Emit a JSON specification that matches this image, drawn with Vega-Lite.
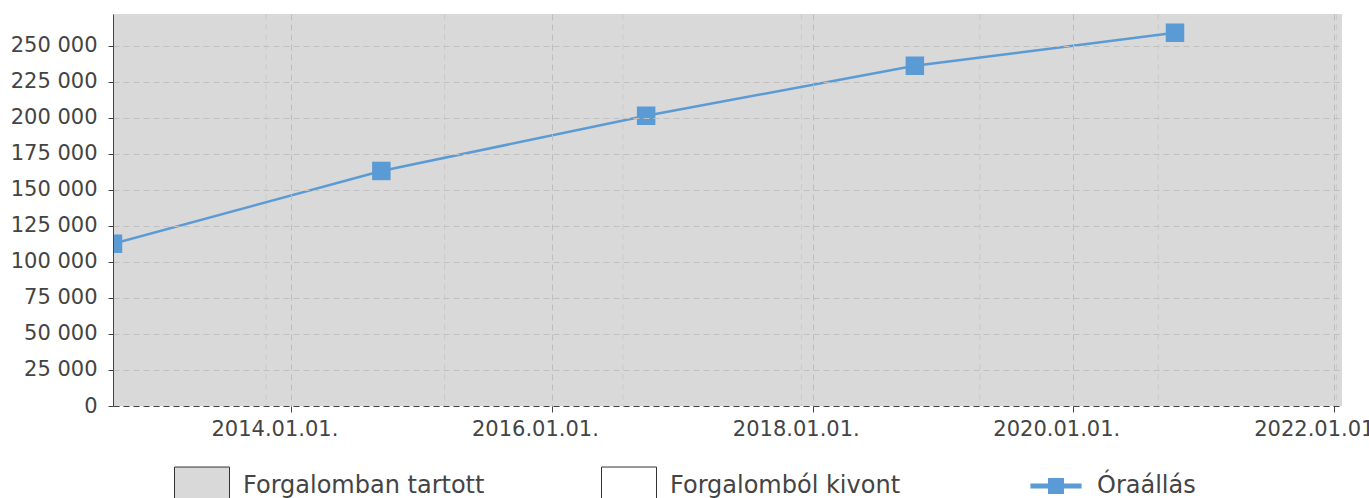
{
  "$schema": "https://vega.github.io/schema/vega-lite/v6.json",
  "width": 1229,
  "height": 392,
  "autosize": {"type": "none"},
  "padding": {"left": 113, "top": 14, "right": 27, "bottom": 92},
  "background": "white",
  "config": {
    "locale": {"number": {"decimal": ",", "thousands": " ", "grouping": [3], "currency": ["", ""]}},
    "view": {"stroke": null},
    "font": "DejaVu Sans"
  },
  "datasets": {
    "periods": [{"start": "2012-08-19", "end": "2022-01-23", "status": "Forgalomban tartott"}],
    "minor": [
      {"date": "2013-10-22"}, {"date": "2015-03-06"}, {"date": "2016-07-18"},
      {"date": "2017-11-30"}, {"date": "2019-04-14"}, {"date": "2020-08-26"}, {"date": "2022-01-08"}
    ],
    "readings": [
      {"date": "2012-08-19", "km": 112600, "series": "Óraállás"},
      {"date": "2014-09-10", "km": 163100, "series": "Óraállás"},
      {"date": "2016-09-21", "km": 201400, "series": "Óraállás"},
      {"date": "2018-10-14", "km": 236100, "series": "Óraállás"},
      {"date": "2020-10-12", "km": 259000, "series": "Óraállás"}
    ]
  },
  "layer": [
    {
      "data": {"name": "periods"},
      "mark": {"type": "rect", "clip": true},
      "encoding": {
        "x": {
          "field": "start", "type": "temporal",
          "scale": {"type": "utc", "domain": [{"year": 2012, "month": 8, "date": 19, "utc": true}, {"year": 2022, "month": 1, "date": 23, "utc": true}]},
          "axis": {
            "values": [
              {"year": 2014, "month": 1, "date": 1, "utc": true},
              {"year": 2016, "month": 1, "date": 1, "utc": true},
              {"year": 2018, "month": 1, "date": 1, "utc": true},
              {"year": 2020, "month": 1, "date": 1, "utc": true},
              {"year": 2022, "month": 1, "date": 1, "utc": true}
            ],
            "labelExpr": "utcFormat(datum.value, '%Y.%m.%d.')",
            "title": null,
            "grid": true, "gridColor": "#bdbdbd", "gridDash": [6, 4],
            "domainColor": "#444444", "domainDash": [6, 4],
            "tickColor": "#444444", "tickSize": 6,
            "labelFontSize": 21, "labelColor": "#444444", "labelPadding": 6, "labelOffset": -17,
            "labelFlush": false, "labelOverlap": false, "zindex": 1
          }
        },
        "x2": {"field": "end"},
        "color": {
          "field": "status", "type": "nominal",
          "scale": {"domain": ["Forgalomban tartott", "Forgalomból kivont", "Óraállás"], "range": ["#d9d9d9", "#ffffff", "#5b9bd5"]},
          "legend": {
            "orient": "none", "legendX": 61, "legendY": 444,
            "direction": "horizontal", "columns": 3, "gridAlign": "all", "columnPadding": 114,
            "title": null, "padding": 0, "rowPadding": 0,
            "symbolSize": 3025, "labelFontSize": 24, "labelColor": "#444444", "labelOffset": 13, "labelLimit": 400,
            "symbolOpacity": 1,
            "encode": {"symbols": {"update": {
              "shape": {"signal": "datum.value === 'Óraállás' ? 'M-1,-0.69M1,0.69M-0.93,-0.09H-0.29V-0.29H0.29V-0.09H0.93V0.09H0.29V0.29H-0.29V0.09H-0.93Z' : 'M-1,-0.69H1V0.69H-1Z'"},
              "stroke": {"signal": "datum.value === 'Óraállás' ? 'transparent' : '#333333'"},
              "strokeWidth": {"value": 1},
              "opacity": {"value": 1}
            }}}
          }
        }
      }
    },
    {
      "data": {"name": "minor"},
      "mark": {"type": "rule", "color": "#cbcbcb", "strokeDash": [6, 4], "strokeWidth": 1},
      "encoding": {
        "x": {"field": "date", "type": "temporal", "scale": {"type": "utc", "domain": [{"year": 2012, "month": 8, "date": 19, "utc": true}, {"year": 2022, "month": 1, "date": 23, "utc": true}]}}
      }
    },
    {
      "data": {"name": "readings"},
      "mark": {"type": "line", "color": "#5b9bd5", "strokeWidth": 2.5, "clip": true},
      "encoding": {
        "x": {"field": "date", "type": "temporal", "scale": {"type": "utc", "domain": [{"year": 2012, "month": 8, "date": 19, "utc": true}, {"year": 2022, "month": 1, "date": 23, "utc": true}]}},
        "y": {
          "field": "km", "type": "quantitative",
          "scale": {"domain": [0, 272000], "nice": false, "zero": true},
          "axis": {
            "values": [0, 25000, 50000, 75000, 100000, 125000, 150000, 175000, 200000, 225000, 250000],
            "format": ",d", "title": null,
            "grid": true, "gridColor": "#c0c0c0", "gridDash": [6, 4],
            "domain": true, "domainColor": "#444444", "tickColor": "#444444", "tickSize": 5,
            "labelPadding": 11, "labelFontSize": 21, "labelColor": "#444444",
            "labelOverlap": false, "zindex": 1
          }
        }
      }
    },
    {
      "data": {"name": "readings"},
      "mark": {"type": "point", "shape": "square", "filled": true, "size": 342, "opacity": 1, "clip": true},
      "encoding": {
        "x": {"field": "date", "type": "temporal", "scale": {"type": "utc", "domain": [{"year": 2012, "month": 8, "date": 19, "utc": true}, {"year": 2022, "month": 1, "date": 23, "utc": true}]}},
        "y": {
          "field": "km", "type": "quantitative",
          "scale": {"domain": [0, 272000], "nice": false, "zero": true},
          "axis": {
            "values": [0, 25000, 50000, 75000, 100000, 125000, 150000, 175000, 200000, 225000, 250000],
            "format": ",d", "title": null,
            "grid": true, "gridColor": "#c0c0c0", "gridDash": [6, 4],
            "domain": true, "domainColor": "#444444", "tickColor": "#444444", "tickSize": 5,
            "labelPadding": 11, "labelFontSize": 21, "labelColor": "#444444",
            "labelOverlap": false, "zindex": 1
          }
        },
        "color": {"field": "series", "type": "nominal"}
      }
    }
  ]
}
